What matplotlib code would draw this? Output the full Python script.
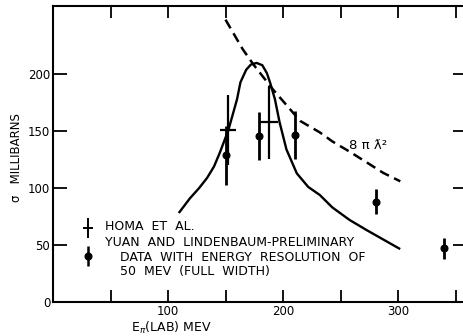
import matplotlib
matplotlib.use("Agg")
import matplotlib.pyplot as plt
from matplotlib.ticker import MultipleLocator, FixedLocator

# pi+ p total cross section near the (3,3) resonance
curve_e = [110, 119, 127, 134, 140, 145, 152.5, 160, 163, 168, 172, 177, 182, 186,
           189, 193, 197, 203, 212, 222, 232, 243, 258, 273, 287, 301]
curve_sigma = [79, 91, 100, 109, 119, 131, 151, 178, 193, 204, 208.5, 210, 208, 201,
               192, 178, 158, 134, 113, 101, 94, 83, 72, 63, 55, 47]

# unitarity limit 8 pi lambda-bar^2
limit_e = [150, 165, 174, 191, 215, 232, 243, 258, 273, 287, 302]
limit_sigma = [248, 222, 209, 187, 159, 149, 141, 132, 122.5, 113.5, 106]

homa_e = [152, 188]
homa_sigma = [151, 158]
homa_dsigma = [31, 32]
homa_de = [7, 8]

yuan_e = [150, 179, 210, 281, 340]
yuan_sigma = [129, 146, 147, 88, 47]
yuan_dsigma = [26, 21, 21, 11, 9]

W, H = 464, 336
fig = plt.figure(figsize=(W / 100, H / 100), dpi=100)
ax = fig.add_axes([53 / W, 34 / H, 414 / W, 296 / H])

ax.plot(curve_e, curve_sigma, color="black", lw=1.7, solid_joinstyle="round")
ax.plot(limit_e, limit_sigma, color="black", lw=1.8, ls=(0, (4, 2.3)))
ax.errorbar(homa_e, homa_sigma, yerr=homa_dsigma, xerr=homa_de, fmt="none",
            ecolor="black", elinewidth=1.6, capsize=0)
ax.errorbar(yuan_e, yuan_sigma, yerr=yuan_dsigma, fmt="o", color="black",
            ms=4.8, elinewidth=2.0, capsize=0)

ax.set_xlim(0, 360)
ax.set_ylim(0, 260)

for s in ax.spines.values():
    s.set_linewidth(1.5)
# the right edge of the frame falls outside the page; only its ticks show
ax.spines["right"].set_visible(False)

ax.xaxis.set_major_locator(FixedLocator([100, 200, 300]))
ax.xaxis.set_minor_locator(MultipleLocator(50))
ax.yaxis.set_major_locator(FixedLocator([0, 50, 100, 150, 200]))
ax.tick_params(which="both", direction="in", top=True, right=True,
               width=1.3, labelsize=8.5, pad=2)
ax.tick_params(axis="x", which="both", length=8.5)
ax.tick_params(axis="y", length=10, pad=2)
ax.tick_params(axis="y", which="minor", length=0)

ax.text(103, -23, r"E$_\pi$(LAB) MEV", fontsize=9, ha="center", va="center",
        clip_on=False)
fig.text(17 / W, 1 - 158 / H, "σ   MILLIBARNS", fontsize=8.5, rotation=90,
         ha="center", va="center")
ax.text(257, 134, "8 π ƛ²", fontsize=9.5, va="baseline")

# legend drawn by hand
ax.errorbar([30.4], [65], yerr=[8.4], xerr=[4.3], fmt="none", ecolor="black",
            elinewidth=1.4, capsize=0)
ax.errorbar([30.4], [40.5], yerr=[9], fmt="o", color="black", ms=4.8,
            elinewidth=1.8, capsize=0)
ax.text(45, 66, "HOMA  ET  AL.", fontsize=9, va="center")
ax.text(45, 52, "YUAN  AND  LINDENBAUM-PRELIMINARY", fontsize=9, va="center")
ax.text(58, 39, "DATA  WITH  ENERGY  RESOLUTION  OF", fontsize=9, va="center")
ax.text(58, 26.4, "50  MEV  (FULL  WIDTH)", fontsize=9, va="center")

fig.savefig("out.png", dpi=100)
